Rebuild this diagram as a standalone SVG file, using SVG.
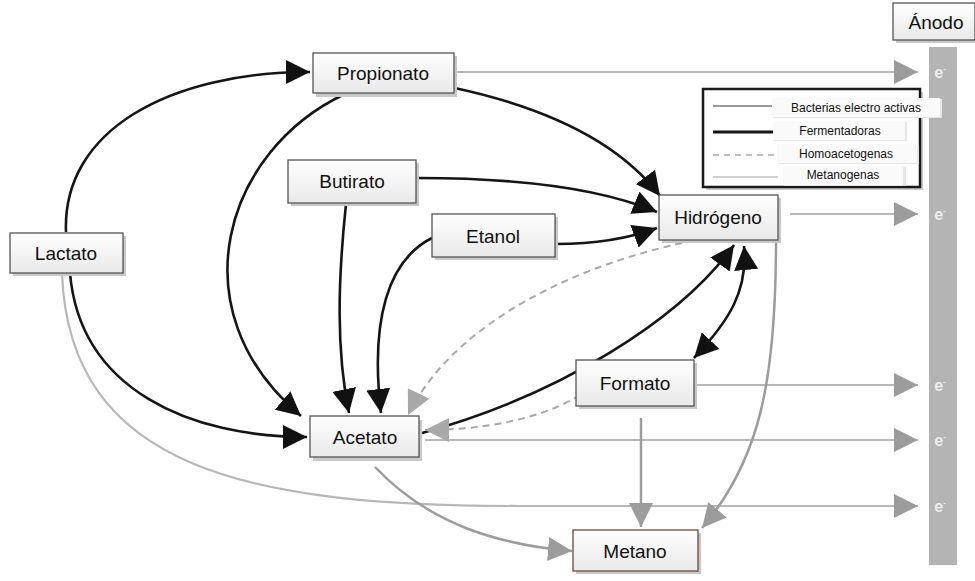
<svg xmlns="http://www.w3.org/2000/svg" width="975" height="581" viewBox="0 0 975 581">
<defs>
<linearGradient id="boxg" x1="0" y1="0" x2="0" y2="1">
<stop offset="0" stop-color="#ffffff"/>
<stop offset="1" stop-color="#e9e9e9"/>
</linearGradient>
<marker id="ab" markerUnits="userSpaceOnUse" markerWidth="26" markerHeight="24" refX="24" refY="12" orient="auto-start-reverse">
<path d="M0,0 L24,12 L0,24 z" fill="#111"/>
</marker>
<marker id="ag" markerUnits="userSpaceOnUse" markerWidth="26" markerHeight="24" refX="24" refY="12" orient="auto">
<path d="M0,0 L24,12 L0,24 z" fill="#9c9c9c"/>
</marker>
<marker id="al" markerUnits="userSpaceOnUse" markerWidth="26" markerHeight="24" refX="24" refY="12" orient="auto">
<path d="M0,0 L24,12 L0,24 z" fill="#a8a8a8"/>
</marker>
</defs>
<style>
.box{fill:url(#boxg);stroke:#555;stroke-width:1.3}
.sh{fill:#c8c8c8}
.t{font-family:"Liberation Sans",Arial,sans-serif;font-size:19px;fill:#111;text-anchor:middle;dominant-baseline:central}
.lt{font-family:"Liberation Sans",Arial,sans-serif;font-size:12px;fill:#111;text-anchor:middle;dominant-baseline:central}
.lb{fill:#fafafa;stroke:none}
.fer{fill:none;stroke:#151515;stroke-width:2.6}
.ele{fill:none;stroke:#b8b8b8;stroke-width:2.2}
.hom{fill:none;stroke:#a8a8a8;stroke-width:2;stroke-dasharray:7 5}
.met{fill:none;stroke:#9c9c9c;stroke-width:2.5}
.e{font-family:"Liberation Sans",Arial,sans-serif;font-size:16px;fill:#eeeeee;text-anchor:middle;font-weight:bold}
</style>

<g id="anode">
<rect x="929" y="47" width="28" height="518" fill="#b4b4b4"/>
<text class="e" x="940" y="78">e<tspan font-size="8" dy="-7">-</tspan></text>
<text class="e" x="940" y="220">e<tspan font-size="8" dy="-7">-</tspan></text>
<text class="e" x="940" y="391">e<tspan font-size="8" dy="-7">-</tspan></text>
<text class="e" x="940" y="446">e<tspan font-size="8" dy="-7">-</tspan></text>
<text class="e" x="940" y="512">e<tspan font-size="8" dy="-7">-</tspan></text>
</g>
<g id="anodo-label">
<rect class="sh" x="896" y="6" width="82" height="37"/>
<rect class="box" x="893" y="3" width="82" height="37"/>
<text class="t" x="936" y="22">Ánodo</text>
</g>

<g id="legend">
<rect x="706" y="92" width="217" height="98" fill="#ccc"/>
<rect x="703" y="89" width="217" height="98" fill="#fff" stroke="#1a1a1a" stroke-width="2.5"/>
<line x1="713" y1="106" x2="778" y2="106" stroke="#9a9a9a" stroke-width="2"/>
<line x1="713" y1="132" x2="778" y2="132" stroke="#151515" stroke-width="3"/>
<line x1="713" y1="155" x2="778" y2="155" stroke="#aaa" stroke-width="1.5" stroke-dasharray="6 5"/>
<line x1="713" y1="177" x2="778" y2="177" stroke="#c0c0c0" stroke-width="1.5"/>
<rect x="773" y="99" width="169" height="19" fill="#e6e6e6"/>
<rect class="lb" x="772" y="98" width="168" height="19"/>
<text class="lt" x="856" y="108">Bacterias electro activas</text>
<rect x="774" y="122" width="133" height="19" fill="#e6e6e6"/>
<rect class="lb" x="773" y="121" width="132" height="19"/>
<text class="lt" x="840" y="131">Fermentadoras</text>
<rect x="778" y="145" width="141" height="19" fill="#e6e6e6"/>
<rect class="lb" x="777" y="144" width="140" height="19"/>
<text class="lt" x="846" y="154">Homoacetogenas</text>
<rect x="784" y="167" width="122" height="19" fill="#e6e6e6"/>
<rect class="lb" x="783" y="166" width="120" height="19"/>
<text class="lt" x="843" y="175">Metanogenas</text>
</g>

<g id="connectors">
<path class="ele" d="M 62 274 C 70 470, 250 506, 520 506 L 918 506" marker-end="url(#ag)"/>
<path class="ele" d="M 455 72 L 918 72" marker-end="url(#ag)"/>
<path class="ele" d="M 790 214 L 918 214" marker-end="url(#ag)"/>
<path class="ele" d="M 694 385 L 918 385" marker-end="url(#ag)"/>
<path class="ele" d="M 425 440 L 918 440" marker-end="url(#ag)"/>
<path class="fer" d="M 66 232 C 62 130, 170 72, 310 72" marker-end="url(#ab)"/>
<path class="fer" d="M 70 273 C 80 390, 190 437, 307 437" marker-end="url(#ab)"/>
<path class="fer" d="M 450 87 C 560 110, 625 150, 660 196" marker-end="url(#ab)"/>
<path class="fer" d="M 345 94 C 225 150, 175 310, 301 416" marker-end="url(#ab)"/>
<path class="fer" d="M 418 178 C 520 178, 600 188, 657 212" marker-end="url(#ab)"/>
<path class="fer" d="M 346 204 C 338 280, 336 350, 349 413" marker-end="url(#ab)"/>
<path class="fer" d="M 556 244 C 600 244, 630 238, 657 228" marker-end="url(#ab)"/>
<path class="fer" d="M 432 238 C 388 260, 370 320, 381 413" marker-end="url(#ab)"/>
<path class="fer" d="M 422 433 C 560 395, 680 320, 734 245" marker-end="url(#ab)"/>
<path class="fer" d="M 694 358 C 730 320, 748 290, 744 246" marker-start="url(#ab)" marker-end="url(#ab)"/>
<path class="hom" d="M 682 243 C 560 270, 450 330, 408 415" marker-end="url(#al)"/>
<path class="hom" d="M 580 395 C 540 420, 480 430, 425 430" marker-end="url(#al)"/>
<path class="met" d="M 641 418 L 641 527" marker-end="url(#ag)"/>
<path class="met" d="M 375 467 C 430 525, 500 545, 572 551" marker-end="url(#ag)"/>
<path class="met" d="M 776 241 C 776 380, 760 460, 702 528" marker-end="url(#ag)"/>
</g>

<g id="propionato">
<rect class="sh" x="316" y="56" width="141" height="41"/>
<rect class="box" x="313" y="53" width="141" height="40"/>
<text class="t" x="383" y="73">Propionato</text>
</g>
<g id="butirato">
<rect class="sh" x="291" y="163" width="128" height="43"/>
<rect class="box" x="288" y="160" width="128" height="43"/>
<text class="t" x="352" y="181">Butirato</text>
</g>
<g id="etanol">
<rect class="sh" x="435" y="217" width="123" height="43"/>
<rect class="box" x="432" y="214" width="123" height="43"/>
<text class="t" x="493" y="236">Etanol</text>
</g>
<g id="lactato">
<rect class="sh" x="13" y="236" width="113" height="40"/>
<rect class="box" x="10" y="233" width="113" height="40"/>
<text class="t" x="66" y="253">Lactato</text>
</g>
<g id="hidrogeno">
<rect class="sh" x="662" y="198" width="119" height="45"/>
<rect class="box" x="659" y="195" width="119" height="45"/>
<text class="t" x="718" y="217">Hidrógeno</text>
</g>
<g id="formato">
<rect class="sh" x="579" y="363" width="118" height="46"/>
<rect class="box" x="576" y="360" width="118" height="46"/>
<text class="t" x="635" y="383">Formato</text>
</g>
<g id="acetato">
<rect class="sh" x="313" y="420" width="109" height="41"/>
<rect class="box" x="310" y="416" width="109" height="41"/>
<text class="t" x="365" y="437">Acetato</text>
</g>
<g id="metano">
<rect class="sh" x="576" y="533" width="125" height="41"/>
<rect class="box" x="573" y="530" width="125" height="41" style="stroke:#6b4a3a"/>
<text class="t" x="635" y="551">Metano</text>
</g>
</svg>
